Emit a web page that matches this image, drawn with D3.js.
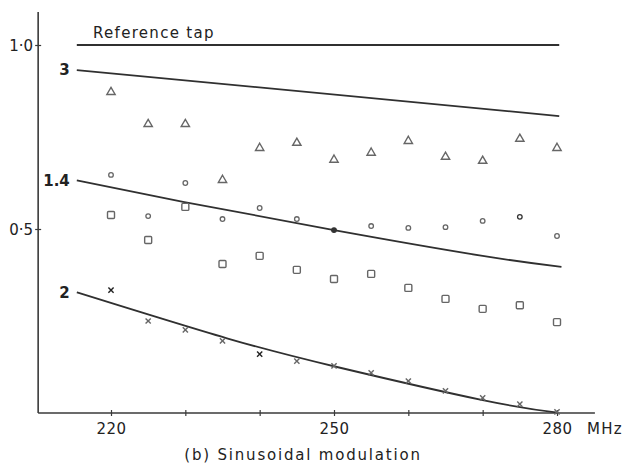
<!DOCTYPE html>
<html>
<head>
<meta charset="utf-8">
<script src="https://cdn.jsdelivr.net/npm/d3@7/dist/d3.min.js"></script>
<style>
  html, body { margin: 0; padding: 0; background: #fff; }
  svg { display: block; }
  text { font-family: "DejaVu Sans", sans-serif; fill: #222; }
</style>
</head>
<body>
<svg id="chart" width="644" height="465"></svg>
<script>
// Frequency points (MHz) at which measurements were taken
const freqs = [220, 225, 230, 235, 240, 245, 250, 255, 260, 265, 270, 275, 280];

// Measured relative tap amplitudes
const triangleVals = [0.872, 0.785, 0.785, 0.633, 0.720, 0.734, 0.688, 0.707, 0.739, 0.696, 0.685, 0.745, 0.720];
const circleVals   = [0.647, 0.535, 0.625, 0.527, 0.557, 0.527, 0.497, 0.508, 0.503, 0.505, 0.522, 0.533, 0.481];
const squareVals   = [0.538, 0.470, 0.560, 0.405, 0.427, 0.389, 0.364, 0.378, 0.340, 0.310, 0.283, 0.293, 0.247];
const crossVals    = [0.334, 0.250, 0.226, 0.196, 0.160, 0.141, 0.128, 0.109, 0.087, 0.060, 0.041, 0.024, 0.003];

// Theoretical curves: [MHz, amplitude]
const refTap   = [[215.4, 1.0], [280.3, 1.0]];
const curve3   = [[215.4, 0.932], [280.3, 0.807]];
const curve14  = [[215.4, 0.632], [229.7, 0.574], [250, 0.497], [270, 0.427], [280.6, 0.397]];
const curve2   = [[215.4, 0.328], [235.6, 0.203], [250.4, 0.125], [270, 0.035], [280.1, 0.001]];

// Axis ticks and labels
const xTicks = [220, 230, 240, 250, 260, 270, 280];
const xLabels = [220, 250, 280];
const yTicks = [0.5, 1.0];
const yTickLabels = ["0·5", "1·0"];
const curveLabels = [
  { text: "3", value: 0.932 },
  { text: "1.4", value: 0.632 },
  { text: "2", value: 0.328 }
];

const svg = d3.select("#chart");
const x = d3.scaleLinear().domain([220, 280]).range([111, 557]);
const y = d3.scaleLinear().domain([0, 1]).range([413, 45]);

const axisColor = "#3a3a3a";
const lineColor = "#303030";
const markColor = "#666";

// Axis lines
svg.append("line")
  .attr("x1", x(210.2)).attr("x2", x(210.2))
  .attr("y1", y(1.09)).attr("y2", y(0))
  .attr("stroke", axisColor).attr("stroke-width", 1.6);
svg.append("line")
  .attr("x1", x(210.2)).attr("x2", x(285.1))
  .attr("y1", y(0)).attr("y2", y(0))
  .attr("stroke", axisColor).attr("stroke-width", 1.6);

// X axis ticks (crossing the axis line) with sparse labels
const xAxis = d3.axisBottom(x)
  .tickValues(xTicks)
  .tickSize(0)
  .tickFormat(d => xLabels.includes(d) ? String(d) : "");
const gx = svg.append("g").attr("transform", `translate(0,${y(0)})`).call(xAxis);
gx.select(".domain").remove();
gx.selectAll(".tick line").attr("y1", -3).attr("y2", 3).attr("stroke", axisColor).attr("stroke-width", 1.2);
gx.selectAll(".tick text")
  .attr("y", 21).attr("dy", 0)
  .style("font-size", "15px").style("letter-spacing", "0.5px")
  .attr("fill", "#222");
svg.append("text")
  .attr("x", 587).attr("y", y(0) + 21)
  .style("font-size", "15px").style("letter-spacing", "1.3px")
  .text("MHz");

// Y axis ticks
const yAxis = d3.axisLeft(y)
  .tickValues(yTicks)
  .tickSize(0)
  .tickFormat((d, i) => yTickLabels[i]);
const gy = svg.append("g").attr("transform", `translate(${x(210.2)},0)`).call(yAxis);
gy.select(".domain").remove();
gy.selectAll(".tick line").attr("x1", -3).attr("x2", 3).attr("stroke", axisColor).attr("stroke-width", 1.2);
gy.selectAll(".tick text")
  .attr("x", -5).attr("dy", "0.36em")
  .style("font-size", "15px")
  .attr("fill", "#222");

// Theoretical curves
const lineGen = d3.line().x(d => x(d[0])).y(d => y(d[1])).curve(d3.curveNatural);
[refTap, curve3, curve14, curve2].forEach(c => {
  svg.append("path")
    .attr("d", lineGen(c))
    .attr("fill", "none")
    .attr("stroke", lineColor)
    .attr("stroke-width", 1.8);
});

// Curve labels
svg.selectAll(".clabel").data(curveLabels).join("text")
  .attr("class", "clabel")
  .attr("x", x(215.4) - 7)
  .attr("y", d => y(d.value))
  .attr("dy", "0.36em")
  .attr("text-anchor", "end")
  .style("font-size", "15px")
  .style("font-weight", "bold")
  .text(d => d.text);

svg.append("text")
  .attr("x", 93).attr("y", 38)
  .style("font-size", "15px").style("letter-spacing", "1.3px")
  .text("Reference tap");

// Measured points
const triangle = d3.symbol().type(d3.symbolTriangle).size(30);
svg.selectAll(".tri").data(freqs).join("path")
  .attr("class", "tri")
  .attr("transform", (d, i) => `translate(${x(d)},${y(triangleVals[i])})`)
  .attr("d", triangle)
  .attr("fill", "none").attr("stroke", markColor).attr("stroke-width", 1.4);

svg.selectAll(".circ").data(freqs).join("circle")
  .attr("class", "circ")
  .attr("cx", d => x(d))
  .attr("cy", (d, i) => y(circleVals[i]))
  .attr("r", 2.3)
  .attr("fill", d => d === 250 ? "#333" : "none")
  .attr("stroke", d => (d === 250 || d === 275) ? "#333" : markColor)
  .attr("stroke-width", 1.3);

const sq = 7;
svg.selectAll(".sq").data(freqs).join("rect")
  .attr("class", "sq")
  .attr("x", d => x(d) - sq / 2)
  .attr("y", (d, i) => y(squareVals[i]) - sq / 2)
  .attr("width", sq).attr("height", sq)
  .attr("rx", 1)
  .attr("fill", "none").attr("stroke", markColor).attr("stroke-width", 1.4);

const cr = 2.6;
const crosses = svg.selectAll(".cross").data(freqs).join("g")
  .attr("class", "cross")
  .attr("transform", (d, i) => `translate(${x(d)},${y(crossVals[i])})`)
  .attr("stroke", d => (d === 220 || d === 240) ? "#222" : markColor)
  .attr("stroke-width", 1.4);
crosses.append("line").attr("x1", -cr).attr("y1", -cr).attr("x2", cr).attr("y2", cr);
crosses.append("line").attr("x1", -cr).attr("y1", cr).attr("x2", cr).attr("y2", -cr);

// Caption
svg.append("text")
  .attr("x", 303).attr("y", 460)
  .attr("text-anchor", "middle")
  .style("font-size", "15px").style("letter-spacing", "1.8px")
  .text("(b) Sinusoidal modulation");
</script>
</body>
</html>
